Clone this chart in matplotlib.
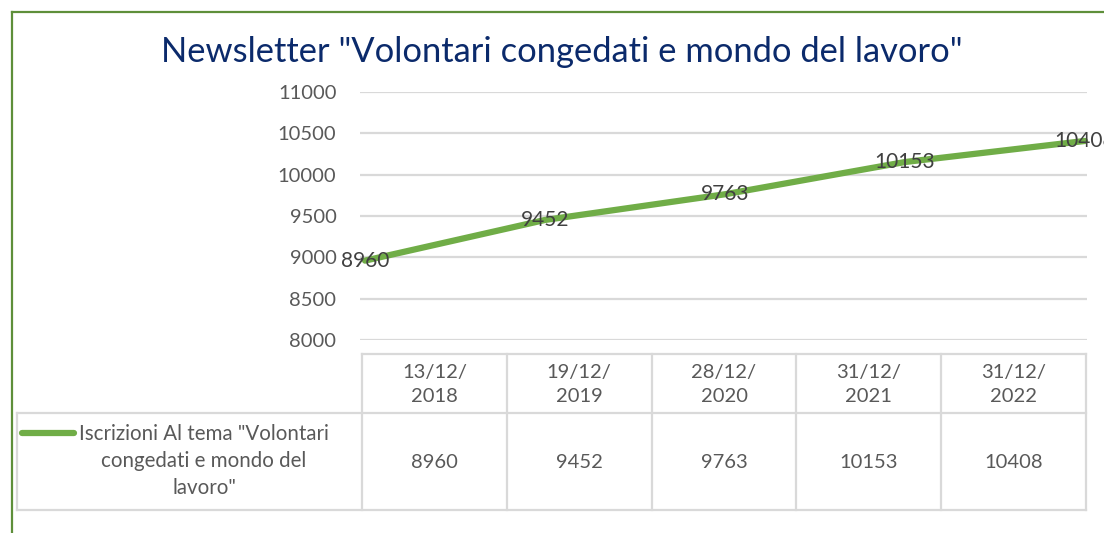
import matplotlib.pyplot as plt
from matplotlib.lines import Line2D

plt.rcParams['font.family'] = ['Lato', 'DejaVu Sans']

# dati
date_labels = ['13/12/\n2018', '19/12/\n2019', '28/12/\n2020', '31/12/\n2021', '31/12/\n2022']
iscrizioni = [8960, 9452, 9763, 10153, 10408]
y_ticks = [8000, 8500, 9000, 9500, 10000, 10500, 11000]
series_name = 'Iscrizioni Al tema "Volontari\ncongedati e mondo del\nlavoro"'
title = 'Newsletter "Volontari congedati e mondo del lavoro"'

W, H = 1104, 533
GREEN = '#70AD47'
GRID = '#D9D9D9'
TXT = '#404040'
TICK = '#595959'

fig = plt.figure(figsize=(W / 100, H / 100), dpi=100)

# overlay in pixel per cornice e tabella
ov = fig.add_axes([0, 0, 1, 1])
ov.set_xlim(0, W)
ov.set_ylim(H, 0)
ov.axis('off')

# cornice verde (solo sinistra e sopra visibili)
ov.add_line(Line2D([12, 12], [12, H], color='#5E8F3A', lw=1.6))
ov.add_line(Line2D([12, W], [12, 12], color='#5E8F3A', lw=1.6))

ov.text(562, 52, title, ha='center', va='center', fontsize=24.8, color='#0B2A6B')

# grafico
px_unit = 180.0
ax_l, ax_r = 360, 1087
ax_t, ax_b = 92, 340
ax = fig.add_axes([ax_l / W, 1 - ax_b / H, (ax_r - ax_l) / W, (ax_b - ax_t) / H])
ax.set_xlim(-(365 - ax_l) / px_unit, (ax_r - 365) / px_unit)
ax.set_ylim(8000, 11000)
ax.set_yticks(y_ticks)
ax.set_xticks([])
ax.tick_params(axis='y', length=0, pad=17, labelsize=14.5, labelcolor=TICK)
for s in ax.spines.values():
    s.set_visible(False)
ax.grid(axis='y', color=GRID, lw=1.6)
ax.set_axisbelow(True)
ax.patch.set_alpha(0)

xs = list(range(len(iscrizioni)))
ax.plot(xs, iscrizioni, color=GREEN, lw=4.5, solid_capstyle='round', clip_on=False)
for x, v in zip(xs, iscrizioni):
    ax.text(x, v, str(v), ha='center', va='center', fontsize=15, color=TXT, clip_on=False)

# tabella dati
col_x0, col_w = 362, 144.8
row_top, row_mid, row_bot = 354, 413, 510
leg_x0 = 17
n = len(date_labels)
col_edges = [col_x0 + i * col_w for i in range(n + 1)]
lw_t = 1.6
ov.add_line(Line2D([col_x0, col_edges[-1]], [row_top, row_top], color=GRID, lw=lw_t))
ov.add_line(Line2D([leg_x0, col_edges[-1]], [row_mid, row_mid], color=GRID, lw=lw_t))
ov.add_line(Line2D([leg_x0, col_edges[-1]], [row_bot, row_bot], color=GRID, lw=lw_t))
ov.add_line(Line2D([leg_x0, leg_x0], [row_mid, row_bot], color=GRID, lw=lw_t))
for cx in col_edges:
    ov.add_line(Line2D([cx, cx], [row_top, row_bot], color=GRID, lw=lw_t))

for i, (lab, v) in enumerate(zip(date_labels, iscrizioni)):
    cx = col_x0 + (i + 0.5) * col_w
    ov.text(cx, (row_top + row_mid) / 2 + 1, lab, ha='center', va='center',
            fontsize=14.5, color=TICK, linespacing=1.5)
    ov.text(cx, (row_mid + row_bot) / 2 + 1, str(v), ha='center', va='center',
            fontsize=14.5, color=TICK)

# chiave legenda + nome serie
ov.add_line(Line2D([22, 74], [433, 433], color=GREEN, lw=4.5, solid_capstyle='round'))
ov.text(204, 461, series_name, ha='center', va='center', multialignment='center',
        fontsize=14.8, color=TICK, linespacing=1.45)

fig.savefig('out.png', dpi=100)
